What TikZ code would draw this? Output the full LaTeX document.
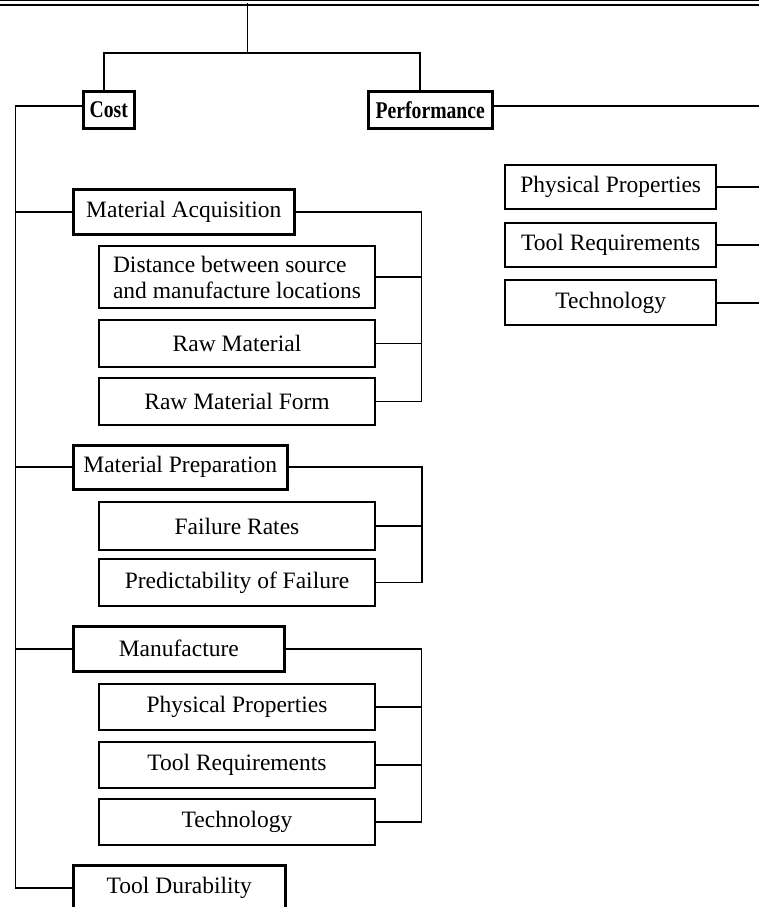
\documentclass[tikz,border=0pt]{standalone}
\usepackage{fontspec}
\setmainfont{Liberation Serif}
\usetikzlibrary{positioning}

\newcommand{\headtext}[1]{\scalebox{0.82}[1]{#1}}

\tikzset{
  rootbox/.style={draw, double, double distance=3.2pt, line width=1.3pt},
  headbox/.style={draw, line width=3.5pt, anchor=north west, inner sep=1pt,
    font=\fontsize{24}{28}\selectfont\bfseries},
  groupbox/.style={draw, line width=2.6pt, anchor=north west, inner sep=1pt,
    font=\fontsize{23.5}{26}\selectfont},
  itembox/.style={draw, line width=2pt, anchor=north west, inner sep=1pt,
    font=\fontsize{23.5}{26}\selectfont},
  link/.style={line width=1.7pt}
}

\begin{document}
\begin{tikzpicture}[x=1pt, y=-1pt]
\useasboundingbox (0,0) rectangle (759,907);
% top box, only its lower edge is on the page
\node[rootbox, minimum width=1000pt, minimum height=60pt, anchor=south] (root) at (380,3.3) {};
\node[headbox, minimum width=51pt, minimum height=37pt] (cost) at (81.5,89.5) {\headtext{Cost}};
\node[headbox, minimum width=124pt, minimum height=37pt] (perf) at (366.5,89.5) {\headtext{Performance}};

% cost side
\node[groupbox, minimum width=221pt, minimum height=45pt] (macq) at (72,188) {Material Acquisition};
\node[itembox, minimum width=276pt, minimum height=62pt, align=left] (dist) at (98,245) {Distance between source\\and manufacture locations};
\node[itembox, minimum width=276pt, minimum height=47pt] (rawmat) at (98,319) {Raw Material};
\node[itembox, minimum width=276pt, minimum height=47pt] (rmform) at (98,377) {Raw Material Form};
\node[groupbox, minimum width=214pt, minimum height=44pt] (mprep) at (72,444) {Material Preparation};
\node[itembox, minimum width=276pt, minimum height=48pt] (frate) at (98,501) {Failure Rates};
\node[itembox, minimum width=276pt, minimum height=47pt] (fpred) at (98,558) {Predictability of Failure};
\node[groupbox, minimum width=211pt, minimum height=45pt] (manu) at (72,625) {Manufacture};
\node[itembox, minimum width=276pt, minimum height=46pt] (mphys) at (98,683) {Physical Properties};
\node[itembox, minimum width=276pt, minimum height=46pt] (mtool) at (98,741) {Tool Requirements};
\node[itembox, minimum width=276pt, minimum height=46pt] (mtech) at (98,798) {Technology};
\node[groupbox, minimum width=212pt, minimum height=46pt] (tdur) at (72,864) {Tool Durability};

% performance side
\node[groupbox, line width=2.4pt, minimum width=211pt, minimum height=44pt] (pphys) at (504,164) {Physical Properties};
\node[groupbox, line width=2.4pt, minimum width=211pt, minimum height=44pt] (ptool) at (504,222) {Tool Requirements};
\node[groupbox, line width=2.4pt, minimum width=211pt, minimum height=45pt] (ptech) at (504,279) {Technology};

% connectors
\coordinate (split) at (247.5,53);
\coordinate (costtop) at (104,53);
\coordinate (perftop) at (420,53);
\coordinate (spine) at (15.5,0);
\coordinate (acqbar) at (421.5,0);
\coordinate (prepbar) at (422,0);
\coordinate (manubar) at (421.5,0);
\coordinate (perfbar) at (766,0);

\draw[link] (root.south -| split) -- (split);
\draw[link] (cost.north -| costtop) -- (costtop) -- (perftop) -- (perf.north -| perftop);

\draw[link] ([yshift=4pt]cost.west) -| (tdur.west -| spine) -- (tdur.west);
\draw[link] (macq.west -| spine) -- (macq.west);
\draw[link] (mprep.west -| spine) -- (mprep.west);
\draw[link] (manu.west -| spine) -- (manu.west);

\draw[link] (macq.east) -| (rmform.east -| acqbar) -- (rmform.east);
\draw[link] (dist.east) -- (dist.east -| acqbar);
\draw[link] (rawmat.east) -- (rawmat.east -| acqbar);

\draw[link] (mprep.east) -| (fpred.east -| prepbar) -- (fpred.east);
\draw[link] (frate.east) -- (frate.east -| prepbar);

\draw[link] (manu.east) -| (mtech.east -| manubar) -- (mtech.east);
\draw[link] (mphys.east) -- (mphys.east -| manubar);
\draw[link] (mtool.east) -- (mtool.east -| manubar);

\draw[link] ([yshift=4pt]perf.east) -| (ptech.east -| perfbar) -- (ptech.east);
\draw[link] (pphys.east) -- (pphys.east -| perfbar);
\draw[link] (ptool.east) -- (ptool.east -| perfbar);
\end{tikzpicture}
\end{document}
